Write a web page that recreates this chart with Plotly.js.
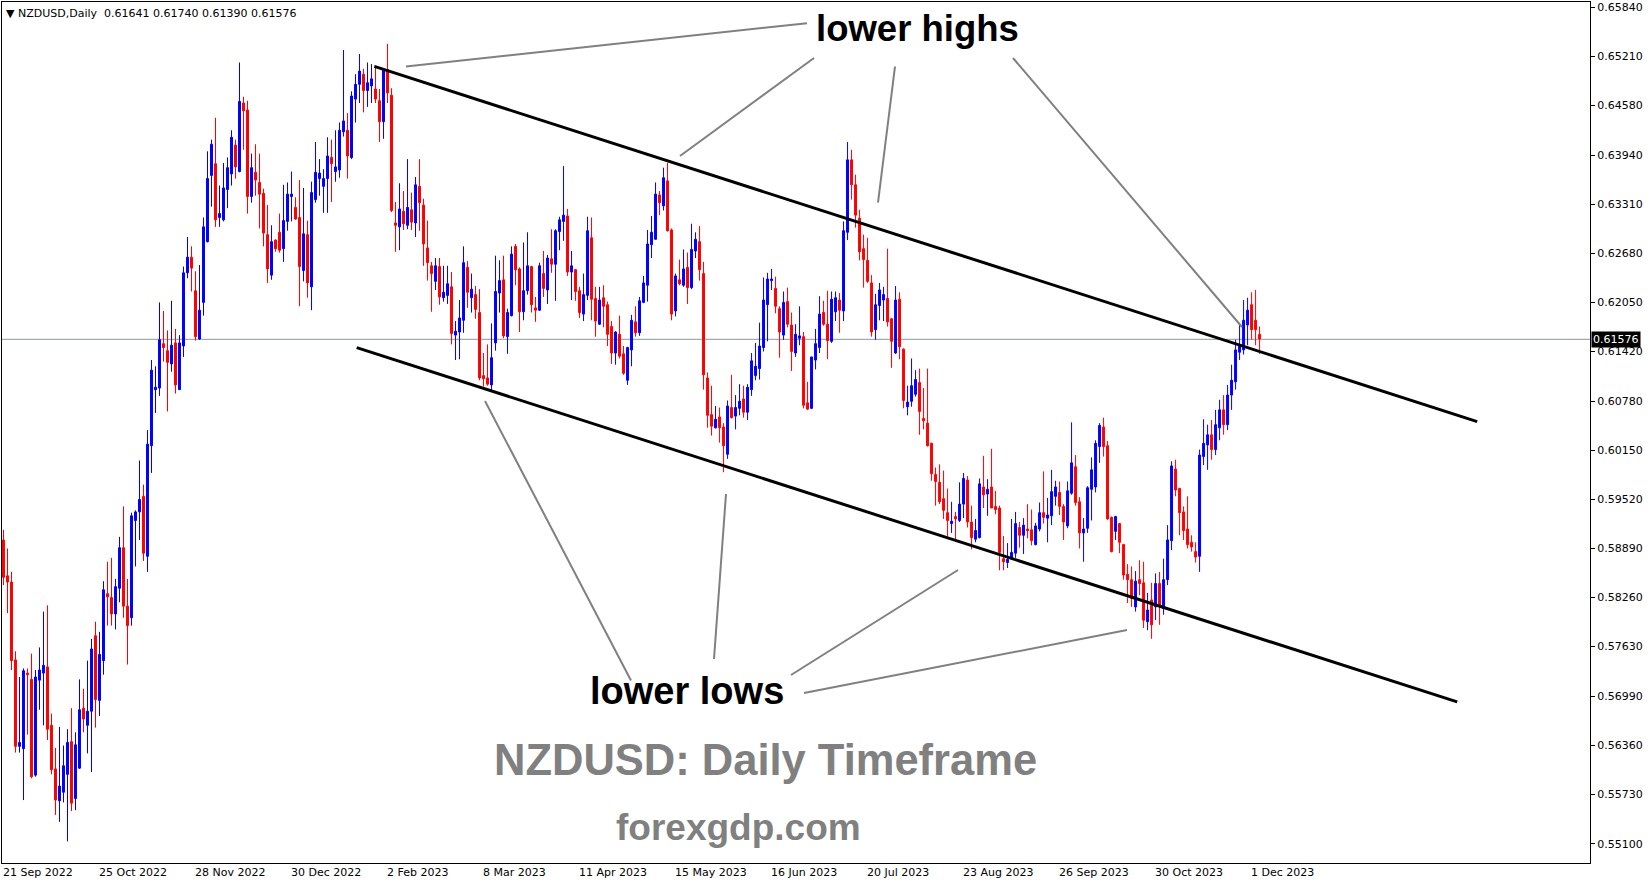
<!DOCTYPE html>
<html><head><meta charset="utf-8">
<script src="https://cdn.plot.ly/plotly-3.0.1.min.js"></script>
<style>html,body{margin:0;padding:0;background:#fff;}#chart{width:1649px;height:884px;}</style>
</head><body><div id="chart"></div>
<script>
const symbolTitle = "NZDUSD,Daily";
const openP = [.5900,.5854,.5846,.5746,.5635,.5632,.5729,.5721,.5598,.5720,
.5729,.5737,.5662,.5606,.5565,.5576,.5599,.5641,.5568,.5607,
.5684,.5662,.5680,.5777,.5694,.5745,.5831,.5826,.5805,.5838,
.5890,.5815,.5800,.5925,.5936,.5956,.5879,.6021,.6093,.6095,
.6152,.6143,.6126,.6153,.6093,.6149,.6243,.6263,.6220,.6158,
.6205,.6283,.6368,.6383,.6314,.6311,.6350,.6370,.6407,.6373,
.6461,.6452,.6341,.6372,.6359,.6345,.6292,.6240,.6285,.6295,
.6274,.6309,.6341,.6327,.6314,.6246,.6292,.6225,.6337,.6364,
.6354,.6364,.6391,.6373,.6375,.6424,.6426,.6391,.6466,.6485,
.6498,.6477,.6483,.6479,.6464,.6437,.6504,.6471,.6307,.6302,
.6322,.6304,.6324,.6307,.6354,.6330,.6275,.6252,.6232,.6251,
.6211,.6214,.6225,.6163,.6167,.6182,.6250,.6211,.6215,.6192,
.6111,.6108,.6099,.6153,.6217,.6234,.6161,.6188,.6277,.6248,
.6193,.6220,.6251,.6198,.6195,.6242,.6221,.6261,.6254,.6296,
.6309,.6316,.6244,.6247,.6220,.6190,.6214,.6288,.6210,.6177,
.6211,.6202,.6174,.6140,.6164,.6139,.6105,.6144,.6180,.6166,
.6205,.6227,.6279,.6286,.6343,.6329,.6361,.6298,.6194,.6234,
.6227,.6250,.6224,.6271,.6283,.6242,.6108,.6061,.6044,.6058,
.6045,.6010,.6070,.6059,.6069,.6081,.6064,.6093,.6111,.6120,
.6147,.6202,.6233,.6223,.6197,.6163,.6206,.6176,.6140,.6159,
.6161,.6076,.6069,.6131,.6147,.6192,.6177,.6155,.6193,.6208,
.6194,.6295,.6388,.6356,.6313,.6274,.6259,.6230,.6170,.6201,
.6208,.6210,.6184,.6140,.6209,.6145,.6071,.6078,.6087,.6102,
.6056,.6050,.6024,.5984,.5974,.5953,.5935,.5921,.5930,.5925,
.5946,.5977,.5923,.5901,.5903,.5968,.5959,.5968,.5943,.5941,
.5876,.5871,.5876,.5883,.5916,.5906,.5914,.5913,.5894,.5914,
.5935,.5928,.5931,.5956,.5961,.5943,.5918,.5960,.5994,.5949,
.5909,.5915,.5965,.5968,.6020,.6045,.6021,.5929,.5911,.5921,
.5894,.5856,.5849,.5814,.5849,.5845,.5795,.5823,.5814,.5844,
.5812,.5849,.5899,.5991,.5966,.5936,.5914,.5897,.5885,.5879,
.6007,.6022,.6035,.6016,.6044,.6067,.6048,.6086,.6103,.6141,
.6144,.6176,.6202,.6182,.6164];
const highP = [.5913,.5889,.5859,.5757,.5724,.5735,.5735,.5754,.5733,.5762,
.5808,.5816,.5677,.5633,.5660,.5636,.5657,.5684,.5653,.5721,
.5709,.5745,.5773,.5795,.5782,.5847,.5872,.5877,.5850,.5904,
.5943,.5850,.5935,.5938,.6002,.5971,.6041,.6131,.6123,.6205,
.6194,.6169,.6207,.6171,.6163,.6251,.6289,.6277,.6245,.6253,
.6314,.6399,.6414,.6442,.6355,.6384,.6391,.6426,.6414,.6513,
.6469,.6464,.6396,.6408,.6396,.6351,.6330,.6304,.6286,.6319,
.6356,.6359,.6373,.6340,.6362,.6352,.6310,.6360,.6411,.6389,
.6376,.6417,.6414,.6426,.6436,.6529,.6448,.6476,.6498,.6524,
.6505,.6513,.6511,.6506,.6479,.6504,.6537,.6480,.6334,.6358,
.6348,.6389,.6346,.6366,.6389,.6338,.6310,.6257,.6262,.6262,
.6252,.6252,.6244,.6181,.6208,.6277,.6258,.6242,.6226,.6222,
.6140,.6151,.6178,.6265,.6259,.6265,.6197,.6277,.6280,.6250,
.6282,.6295,.6252,.6212,.6256,.6271,.6266,.6299,.6299,.6315,
.6380,.6325,.6271,.6248,.6225,.6242,.6315,.6314,.6225,.6225,
.6227,.6206,.6181,.6168,.6188,.6149,.6148,.6189,.6200,.6212,
.6239,.6298,.6316,.6359,.6348,.6378,.6384,.6300,.6242,.6260,
.6273,.6269,.6306,.6295,.6303,.6257,.6115,.6098,.6072,.6070,
.6050,.6079,.6112,.6086,.6100,.6098,.6100,.6140,.6153,.6179,
.6237,.6243,.6248,.6238,.6200,.6219,.6224,.6192,.6177,.6200,
.6167,.6103,.6135,.6171,.6213,.6207,.6220,.6219,.6219,.6217,
.6309,.6411,.6401,.6369,.6324,.6292,.6288,.6240,.6216,.6230,
.6225,.6274,.6185,.6226,.6218,.6146,.6098,.6133,.6118,.6120,
.6095,.6120,.6025,.5993,.5997,.5989,.5966,.5949,.5936,.5974,
.5986,.5982,.5944,.5927,.5979,.6008,.5978,.6017,.5963,.5944,
.5905,.5896,.5927,.5936,.5923,.5928,.5946,.5939,.5922,.5948,
.5988,.5954,.5990,.5976,.5975,.5946,.5975,.6051,.6009,.5955,
.5928,.5969,.6006,.6028,.6050,.6057,.6027,.5930,.5931,.5922,
.5895,.5869,.5866,.5860,.5874,.5872,.5832,.5845,.5857,.5859,
.5876,.5919,.6001,.6003,.5967,.5943,.5956,.5906,.5897,.6016,
.6055,.6048,.6054,.6067,.6080,.6086,.6099,.6125,.6157,.6176,
.6208,.6211,.6218,.6221,.6174];
const lowP = [.5842,.5806,.5733,.5627,.5627,.5566,.5650,.5594,.5596,.5682,
.5662,.5643,.5599,.5547,.5538,.5563,.5513,.5552,.5553,.5606,
.5653,.5626,.5602,.5659,.5674,.5727,.5790,.5790,.5785,.5820,
.5800,.5740,.5790,.5866,.5900,.5873,.5859,.5986,.6063,.6085,
.6129,.6065,.6116,.6088,.6093,.6135,.6236,.6219,.6156,.6157,
.6188,.6282,.6328,.6302,.6302,.6309,.6326,.6355,.6364,.6372,
.6401,.6319,.6333,.6342,.6300,.6277,.6230,.6234,.6270,.6269,
.6257,.6297,.6309,.6311,.6200,.6232,.6211,.6195,.6333,.6342,
.6320,.6320,.6334,.6360,.6365,.6418,.6364,.6389,.6436,.6461,
.6449,.6456,.6461,.6461,.6411,.6415,.6461,.6321,.6270,.6272,
.6298,.6299,.6298,.6289,.6297,.6252,.6233,.6193,.6221,.6202,
.6206,.6203,.6151,.6131,.6132,.6166,.6198,.6192,.6184,.6105,
.6097,.6098,.6090,.6143,.6192,.6159,.6139,.6187,.6227,.6167,
.6182,.6215,.6192,.6180,.6194,.6212,.6203,.6243,.6207,.6272,
.6284,.6239,.6208,.6207,.6185,.6181,.6208,.6182,.6161,.6176,
.6173,.6149,.6126,.6125,.6133,.6112,.6099,.6123,.6161,.6162,
.6204,.6206,.6262,.6286,.6317,.6323,.6296,.6182,.6187,.6227,
.6225,.6203,.6222,.6262,.6233,.6093,.6044,.6034,.6043,.6025,
.5987,.6004,.6056,.6042,.6060,.6057,.6054,.6085,.6105,.6106,
.6142,.6155,.6221,.6191,.6134,.6157,.6173,.6117,.6135,.6150,
.6069,.6067,.6068,.6119,.6140,.6175,.6132,.6153,.6181,.6166,
.6181,.6285,.6337,.6301,.6259,.6224,.6230,.6161,.6157,.6182,
.6181,.6174,.6121,.6139,.6132,.6069,.6060,.6071,.6084,.6035,
.6042,.6020,.5976,.5944,.5946,.5927,.5904,.5909,.5900,.5923,
.5928,.5916,.5888,.5897,.5902,.5941,.5931,.5942,.5933,.5861,
.5861,.5864,.5875,.5877,.5890,.5882,.5902,.5893,.5893,.5911,
.5921,.5897,.5919,.5944,.5932,.5900,.5915,.5958,.5944,.5889,
.5872,.5909,.5925,.5961,.5999,.6007,.5926,.5884,.5900,.5883,
.5849,.5819,.5814,.5808,.5829,.5787,.5784,.5773,.5797,.5791,
.5804,.5842,.5887,.5956,.5906,.5900,.5889,.5885,.5871,.5859,
.5996,.5990,.6003,.6009,.6028,.6035,.6041,.6067,.6093,.6131,
.6138,.6150,.6157,.6150,.6139];
const closeP = [.5852,.5846,.5745,.5635,.5640,.5732,.5727,.5596,.5724,.5733,
.5739,.5657,.5605,.5566,.5584,.5610,.5640,.5562,.5637,.5682,
.5670,.5680,.5760,.5695,.5753,.5836,.5827,.5805,.5840,.5890,
.5815,.5790,.5931,.5936,.5952,.5883,.6023,.6118,.6096,.6157,
.6147,.6128,.6150,.6099,.6153,.6243,.6263,.6249,.6161,.6195,
.6302,.6364,.6408,.6311,.6319,.6352,.6378,.6417,.6379,.6463,
.6451,.6341,.6378,.6362,.6344,.6294,.6248,.6283,.6274,.6272,
.6310,.6344,.6344,.6312,.6251,.6293,.6230,.6346,.6372,.6371,
.6364,.6393,.6383,.6379,.6426,.6438,.6393,.6470,.6485,.6502,
.6477,.6487,.6492,.6466,.6437,.6503,.6474,.6323,.6304,.6325,
.6306,.6327,.6308,.6356,.6333,.6280,.6256,.6242,.6252,.6212,
.6218,.6229,.6165,.6168,.6185,.6256,.6218,.6222,.6196,.6108,
.6107,.6100,.6134,.6219,.6233,.6162,.6192,.6267,.6247,.6193,
.6220,.6252,.6202,.6195,.6252,.6223,.6262,.6254,.6297,.6311,
.6317,.6244,.6252,.6219,.6192,.6215,.6297,.6209,.6181,.6208,
.6200,.6164,.6140,.6167,.6136,.6114,.6147,.6182,.6166,.6207,
.6230,.6280,.6295,.6344,.6333,.6365,.6297,.6190,.6239,.6229,
.6248,.6224,.6273,.6286,.6247,.6112,.6060,.6046,.6055,.6044,
.6021,.6072,.6057,.6070,.6078,.6064,.6096,.6130,.6123,.6149,
.6208,.6235,.6235,.6200,.6167,.6205,.6177,.6142,.6164,.6162,
.6073,.6068,.6135,.6152,.6190,.6177,.6156,.6209,.6211,.6195,
.6297,.6388,.6356,.6317,.6270,.6260,.6232,.6167,.6202,.6221,
.6215,.6180,.6155,.6208,.6148,.6079,.6077,.6098,.6106,.6065,
.6053,.6021,.5985,.5975,.5949,.5938,.5925,.5924,.5927,.5946,
.5979,.5923,.5903,.5912,.5972,.5958,.5965,.5941,.5939,.5884,
.5872,.5875,.5884,.5921,.5906,.5919,.5912,.5899,.5918,.5935,
.5929,.5932,.5962,.5968,.5943,.5923,.5963,.5999,.5948,.5909,
.5914,.5967,.5990,.6024,.6047,.6020,.5927,.5885,.5930,.5897,
.5855,.5849,.5825,.5847,.5844,.5797,.5810,.5791,.5844,.5814,
.5849,.5900,.5995,.5964,.5935,.5912,.5894,.5891,.5878,.6009,
.6024,.6035,.6016,.6048,.6067,.6048,.6086,.6105,.6144,.6150,
.6182,.6195,.6170,.6170,.6158];
const dateTickLabels = ["21 Sep 2022","25 Oct 2022","28 Nov 2022","30 Dec 2022","2 Feb 2023","8 Mar 2023","11 Apr 2023","15 May 2023","16 Jun 2023","20 Jul 2023","23 Aug 2023","26 Sep 2023","30 Oct 2023","1 Dec 2023"];
const barsPerDateLabel = 24;
const priceTicks = [0.65840,0.65210,0.64580,0.63940,0.63310,0.62680,0.62050,0.61420,0.60780,0.60150,0.59520,0.58890,0.58260,0.57630,0.56990,0.56360,0.55730,0.55100];
const lastQuote = {open: 0.61641, high: 0.61740, low: 0.61390, close: 0.61576};

const bars = openP.map((_, i) => i);
// plot area in pixels
const L = 2, R = 1590, T = 2, B = 863;
const PX = x => (x - L) / (R - L);
const PY = y => (B - y) / (B - T);

const trace = {
  type: 'candlestick', x: bars, open: openP, high: highP, low: lowP, close: closeP,
  increasing: {line: {color: '#0000ff', width: 1}, fillcolor: '#0000ff'},
  decreasing: {line: {color: '#ff0000', width: 1}, fillcolor: '#ff0000'},
  whiskerwidth: 0, hoverinfo: 'none', showlegend: false
};

const shapes = [];
shapes.push({type:'line', xref:'paper', x0:0, x1:1, yref:'y', y0:lastQuote.close, y1:lastQuote.close, line:{color:'#8a96a3', width:1}, layer:'below'});
// channel lines
shapes.push({type:'line', xref:'x', yref:'y', x0:92.7, y0:0.6508, x1:368.4, y1:0.6052, line:{color:'#000', width:3}});
shapes.push({type:'line', xref:'x', yref:'y', x0:88.3, y0:0.6147, x1:363.4, y1:0.5692, line:{color:'#000', width:3}});
// pointer lines (pixel coords)
const pointers = [
  [406,66.5,807,23.2],[680,156,814,58],[895,66.5,878,202.6],[1013,58,1242,327],
  [485,401,631,680.5],[726,494,714,659],[958,570,791,675],[1127,630,804,693]
];
pointers.forEach(p => shapes.push({type:'line', xref:'paper', yref:'paper', x0:PX(p[0]), y0:PY(p[1]), x1:PX(p[2]), y1:PY(p[3]), line:{color:'#808080', width:2}}));

const annotations = [];
const f5 = v => v.toFixed(5);
annotations.push({xref:'paper', yref:'paper', x:PX(4), y:PY(13), xanchor:'left', yanchor:'middle', showarrow:false,
  text:'\u25BC ' + symbolTitle + '  ' + [lastQuote.open,lastQuote.high,lastQuote.low,lastQuote.close].map(f5).join(' '),
  font:{family:'DejaVu Sans', size:11, color:'#000'}});
annotations.push({xref:'paper', yref:'paper', x:PX(917), y:PY(29), xanchor:'center', yanchor:'middle', showarrow:false,
  text:'<b>lower highs</b>', font:{family:'Liberation Sans, Arial', size:36.5, color:'#000'}});
annotations.push({xref:'paper', yref:'paper', x:PX(687), y:PY(691), xanchor:'center', yanchor:'middle', showarrow:false,
  text:'<b>lower lows</b>', font:{family:'Liberation Sans, Arial', size:38, color:'#000'}});
annotations.push({xref:'paper', yref:'paper', x:PX(765), y:PY(760), xanchor:'center', yanchor:'middle', showarrow:false,
  text:'<b>NZDUSD: Daily Timeframe</b>', font:{family:'Liberation Sans, Arial', size:43.5, color:'#808080'}});
annotations.push({xref:'paper', yref:'paper', x:PX(738), y:PY(827), xanchor:'center', yanchor:'middle', showarrow:false,
  text:'<b>forexgdp.com</b>', font:{family:'Liberation Sans, Arial', size:37, color:'#808080'}});
// date labels
dateTickLabels.forEach((t, i) => annotations.push({xref:'x', yref:'paper', x:i*barsPerDateLabel, y:0, xanchor:'left', yanchor:'top',
  xshift:-3, yshift:-1, showarrow:false, text:t, font:{family:'DejaVu Sans', size:11, color:'#000'}}));
// current price tag
annotations.push({xref:'paper', yref:'y', x:1, y:lastQuote.close, xanchor:'left', yanchor:'middle', xshift:1, showarrow:false,
  text:f5(lastQuote.close), bgcolor:'#000', borderpad:1, font:{family:'DejaVu Sans', size:11, color:'#fff'}});

const layout = {
  width:1649, height:884, margin:{l:L, r:1649-R, t:T, b:884-B, pad:0},
  paper_bgcolor:'#fff', plot_bgcolor:'#fff', showlegend:false, boxgap:0.3,
  xaxis:{range:[-0.375, 396.6], showgrid:false, zeroline:false, showticklabels:false, ticks:'',
    showline:true, mirror:true, linecolor:'#000', linewidth:1, rangeslider:{visible:false}, fixedrange:true},
  yaxis:{side:'right', range:[0.54852, 0.65907], tickvals:priceTicks, ticktext:priceTicks.map(f5),
    ticks:'outside', ticklen:4, tickcolor:'#000', showgrid:false, zeroline:false,
    showline:true, mirror:true, linecolor:'#000', linewidth:1, fixedrange:true,
    tickfont:{family:'DejaVu Sans', size:11, color:'#000'}},
  shapes:shapes, annotations:annotations
};
Plotly.newPlot('chart', [trace], layout, {staticPlot:true, displayModeBar:false});
</script>
</body></html>
